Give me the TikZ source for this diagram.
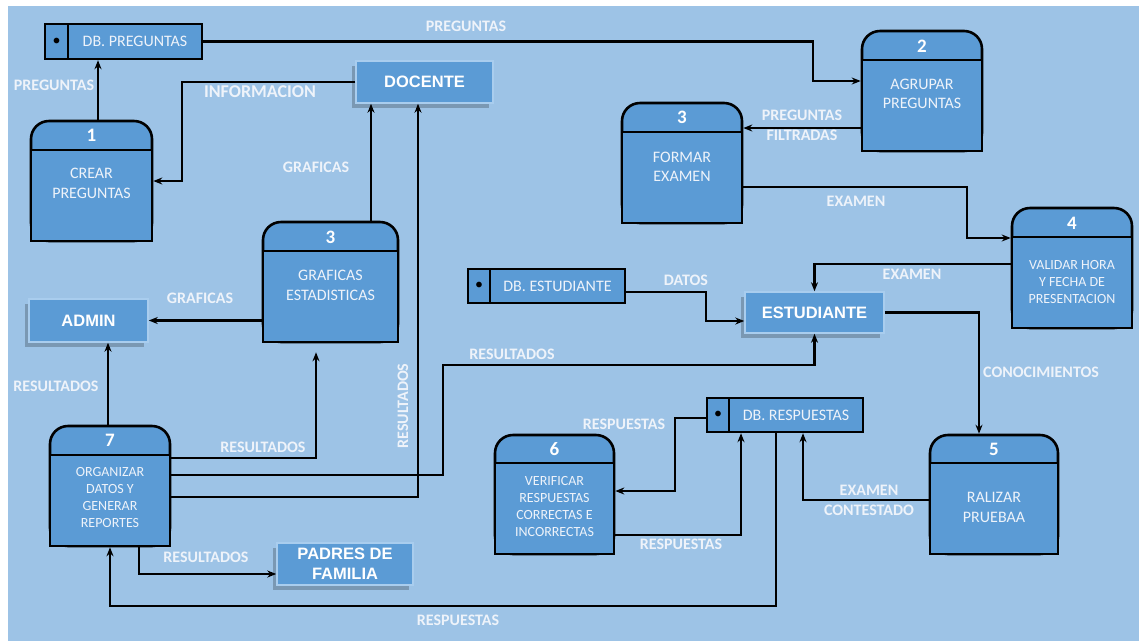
\documentclass[tikz,border=0pt]{standalone}
\usepackage{fontspec}
\setmainfont{Carlito}
\newfontfamily\entfont{Liberation Sans}
\usetikzlibrary{arrows.meta, positioning, shadows}
\definecolor{bgblue}{HTML}{9DC3E6}
\definecolor{boxblue}{HTML}{5B9BD5}
\definecolor{rimblue}{HTML}{A9CDEE}
\definecolor{txtwhite}{HTML}{EEF3FA}
\tikzset{
  procnode/.style={draw=black,line width=2.6pt,fill=boxblue,rounded corners=18pt,minimum height=120pt,inner sep=0pt},
  bodynode/.style={draw=black,line width=2.6pt,fill=boxblue,minimum height=91pt,inner sep=0pt,anchor=south},
  numnode/.style={text=white,inner sep=0pt,font=\bfseries\fontsize{19}{20}\selectfont},
  ptxtnode/.style={align=center,text=txtwhite,inner sep=0pt,font=\fontsize{16}{19.5}\selectfont},
  smtxtnode/.style={ptxtnode,font=\fontsize{14}{17}\selectfont},
  entnode/.style={fill=boxblue,draw=rimblue,line width=1.5pt,text=white,align=center,inner sep=0pt,
    font=\entfont\bfseries\fontsize{16.5}{19.8}\selectfont,
    drop shadow={shadow xshift=-4pt,shadow yshift=-5pt,opacity=.22,fill=black}},
  dbnode/.style={draw=black,line width=2.4pt,fill=boxblue,text=txtwhite,inner sep=0pt,minimum height=35pt,font=\fontsize{16}{19}\selectfont},
  dotnode/.style={dbnode,text=black},
  flowedge/.style={-{Stealth[length=9pt,width=7pt]},line width=2.2pt,black},
  lblnode/.style={text=txtwhite,inner sep=0pt,align=center,font=\bfseries\fontsize{16}{20}\selectfont},
}
\begin{document}
\begin{tikzpicture}[x=1pt,y=-1pt]
  \useasboundingbox (0,0) rectangle (1139,641);
  \fill[bgblue] (8,6) rectangle (1139,641);

  % entidades externas
  \node[entnode,minimum width=137pt,minimum height=42pt] (doc) at (424.5,82) {DOCENTE};
  \node[entnode,minimum width=119pt,minimum height=43pt] (adm) at (88.5,320.5) {ADMIN};
  \node[entnode,minimum width=139pt,minimum height=41pt] (est) at (814.5,312.5) {ESTUDIANTE};
  \node[entnode,minimum width=136pt,minimum height=42pt] (pad) at (345,564) {PADRES DE\\FAMILIA};

  % almacenes de datos
  \node[dotnode,minimum width=23pt] (dbpdot) at (56.5,41.5) {\textbullet};
  \node[dbnode,minimum width=134pt] (dbp) at (135,41.5) {DB. PREGUNTAS};
  \node[dotnode,minimum width=22pt,minimum height=34pt] (dbedot) at (479,286) {\textbullet};
  \node[dbnode,minimum width=135pt,minimum height=34pt] (dbe) at (557.5,286) {DB. ESTUDIANTE};
  \node[dotnode,minimum width=22pt,minimum height=34pt] (dbrdot) at (718,415) {\textbullet};
  \node[dbnode,minimum width=134pt,minimum height=34pt] (dbr) at (796,415) {DB. RESPUESTAS};

  % procesos
  \node[procnode,minimum width=121pt] (p1) at (91.5,181) {};
  \node[bodynode,minimum width=121pt] (p1b) at (p1.south) {};
  \node[numnode] (p1n) at (91.5,135.5) {1};
  \node[ptxtnode] (p1t) at (91.5,183.5) {CREAR\\PREGUNTAS};

  \node[procnode,minimum width=120pt] (p2) at (922,91) {};
  \node[bodynode,minimum width=120pt] (p2b) at (p2.south) {};
  \node[numnode] (p2n) at (922,46) {2};
  \node[ptxtnode] (p2t) at (922,94) {AGRUPAR\\PREGUNTAS};

  \node[procnode,minimum width=120pt] (p3) at (682,163) {};
  \node[bodynode,minimum width=120pt] (p3b) at (p3.south) {};
  \node[numnode] (p3n) at (682,117.5) {3};
  \node[ptxtnode] (p3t) at (682,167) {FORMAR\\EXAMEN};

  \node[procnode,minimum width=120pt] (p4) at (1072,268) {};
  \node[bodynode,minimum width=120pt] (p4b) at (p4.south) {};
  \node[numnode] (p4n) at (1072,223) {4};
  \node[smtxtnode] (p4t) at (1072,281.5) {VALIDAR HORA\\Y FECHA DE\\PRESENTACION};

  \node[procnode,minimum width=135pt] (pg) at (330.5,282) {};
  \node[bodynode,minimum width=135pt] (pgb) at (pg.south) {};
  \node[numnode] (pgn) at (330.5,237) {3};
  \node[ptxtnode] (pgt) at (330.5,285.5) {GRAFICAS\\ESTADISTICAS};

  \node[procnode,minimum width=128pt,minimum height=119pt] (p5) at (994,494.5) {};
  \node[bodynode,minimum width=128pt] (p5b) at (p5.south) {};
  \node[numnode] (p5n) at (994,449) {5};
  \node[ptxtnode] (p5t) at (994,507.5) {RALIZAR\\PRUEBAA};

  \node[procnode,minimum width=119pt,minimum height=119pt] (p6) at (554.5,494.5) {};
  \node[bodynode,minimum width=119pt] (p6b) at (p6.south) {};
  \node[numnode] (p6n) at (554.5,449) {6};
  \node[smtxtnode] (p6t) at (554.5,506) {VERIFICAR\\RESPUESTAS\\CORRECTAS E\\INCORRECTAS};

  \node[procnode,minimum width=120pt] (p7) at (110,486) {};
  \node[bodynode,minimum width=120pt] (p7b) at (p7.south) {};
  \node[numnode] (p7n) at (110,440.5) {7};
  \node[smtxtnode] (p7t) at (110,497.5) {ORGANIZAR\\DATOS Y\\GENERAR\\REPORTES};

  % quiebres
  \coordinate (k2) at (813,81);
  \coordinate (k4) at (967,238);
  \coordinate (k6) at (706,321);
  \coordinate (k9) at (675,491);
  \coordinate (k11) at (776,606);
  \coordinate (k16) at (443,365);
  \coordinate (k19) at (182,181);

  % flujos
  \draw[flowedge] ([xshift=6.5pt]p1.north) -- ([xshift=6.5pt]p1.north |- dbp.south);
  \draw[flowedge] (dbp.east) -| (k2) -- (k2 -| p2.west);
  \draw[flowedge] ([yshift=-37pt]p2.west) -- ([yshift=-37pt]p2.west -| p3.east);
  \draw[flowedge] ([yshift=-24pt]p3.east) -| (k4) -- (k4 -| p4.west);
  \draw[flowedge] ([yshift=4pt]p4.west) -| (est.north);
  \draw[flowedge] ([yshift=-6pt]dbe.east) -| (k6) -- (k6 -| est.west);
  \draw[flowedge] (est.east) -| ([xshift=-15pt]p5.north);
  \draw[flowedge] ([yshift=-5.5pt]p5.west) -| ([xshift=7pt]dbr.south);
  \draw[flowedge] ([yshift=-3pt]dbrdot.west) -| (k9) -- (k9 -| p6.east);
  \draw[flowedge] ([yshift=-40.5pt]p6.east) -| ([xshift=-55pt]dbr.south);
  \draw[flowedge] ([xshift=-20pt]dbr.south) -- (k11) -| (p7.south);
  \draw[flowedge] ([xshift=29pt]p7.south) |- ([yshift=-10pt]pad.west);
  \draw[flowedge] ([xshift=-2pt]p7.north) -- ([xshift=-2pt]p7.north |- adm.south);
  \draw[flowedge] (pg.west |- adm.east) -- (adm.east);
  \draw[flowedge,shorten >=9pt] ([yshift=28pt]p7.east) -| ([xshift=-14.5pt]pg.south);
  \draw[flowedge] ([yshift=11pt]p7.east) -| (k16) -| (est.south);
  \draw[flowedge] ([yshift=-11pt]p7.east) -| ([xshift=-6.5pt]doc.south);
  \draw[flowedge] ([xshift=40.5pt]pg.north) -- ([xshift=40.5pt]pg.north |- doc.south);
  \draw[flowedge] (doc.west) -| (k19) -- (p1.east);

  % etiquetas
  \node[lblnode] (l1) at (54,85) {PREGUNTAS};
  \node[lblnode] (l2) at (466,26) {PREGUNTAS};
  \node[lblnode] (l3) at (802,125) {PREGUNTAS\\FILTRADAS};
  \node[lblnode] (l4) at (856,201) {EXAMEN};
  \node[lblnode] (l5) at (912,274) {EXAMEN};
  \node[lblnode] (l6) at (686,280) {DATOS};
  \node[lblnode] (l7) at (1041,372) {CONOCIMIENTOS};
  \node[lblnode] (l8) at (869,500.5) {EXAMEN\\CONTESTADO};
  \node[lblnode] (l9) at (624,424) {RESPUESTAS};
  \node[lblnode] (l10) at (681,544) {RESPUESTAS};
  \node[lblnode] (l11) at (458,620) {RESPUESTAS};
  \node[lblnode] (l12) at (206,557) {RESULTADOS};
  \node[lblnode] (l13) at (56,386) {RESULTADOS};
  \node[lblnode] (l14) at (200,298) {GRAFICAS};
  \node[lblnode] (l15) at (263,447) {RESULTADOS};
  \node[lblnode] (l16) at (512,354) {RESULTADOS};
  \node[lblnode,rotate=90] (l17) at (403,406) {RESULTADOS};
  \node[lblnode] (l18) at (316,167) {GRAFICAS};
  \node[lblnode,font=\bfseries\fontsize{18}{20}\selectfont] (l19) at (260,92) {INFORMACION};
\end{tikzpicture}
\end{document}
